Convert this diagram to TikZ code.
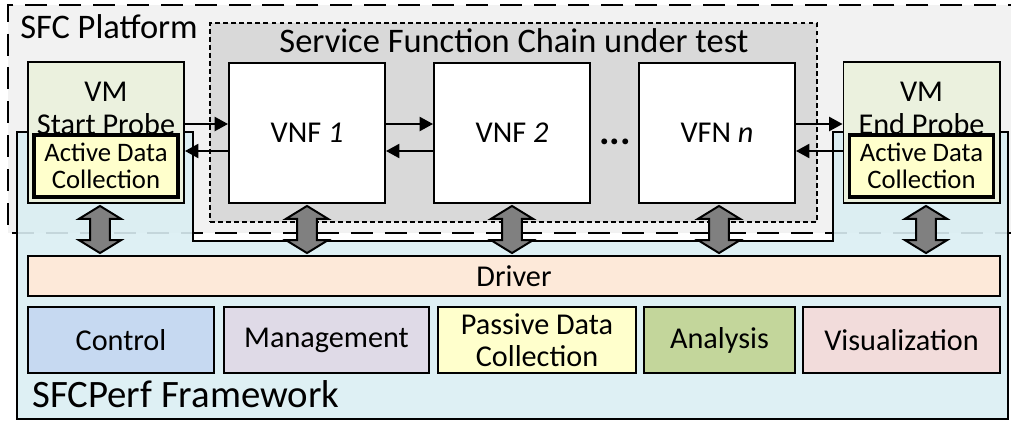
\documentclass[tikz,border=0pt]{standalone}
\usepackage{fontspec}
\setmainfont{Carlito}
\usepackage{tikz}
\usetikzlibrary{calc}
\usetikzlibrary{arrows.meta}

\definecolor{platgray}{HTML}{F2F2F2}
\definecolor{chaingray}{HTML}{D9D9D9}
\definecolor{fwblue}{HTML}{DAEEF3}
\definecolor{vmgreen}{HTML}{EBF1DE}
\definecolor{adcyellow}{HTML}{FFFFCC}
\definecolor{drvpeach}{HTML}{FDE9D9}
\definecolor{ctrlblue}{HTML}{C6D9F1}
\definecolor{mgmtlilac}{HTML}{DFDAE7}
\definecolor{anagreen}{HTML}{C3D69B}
\definecolor{vispink}{HTML}{F2DCDB}
\definecolor{fatgray}{HTML}{808080}

\newcommand{\lblfont}{\fontsize{21.5}{23}\selectfont}
\newcommand{\adcfont}{\fontsize{19}{19.5}\selectfont}
\newcommand{\titlefont}{\fontsize{24.5}{26}\selectfont}
\newcommand{\fwfont}{\fontsize{27.6}{29}\selectfont}

\newcommand{\fatarrow}[3][0]{%
 \draw[fatarr] let \p1=($(#2.south)+(#1,0)$), \p2=(#3.north) in
  (\x1,\y1-1.4pt) -- (\x1+15pt,\y1-10.6pt) -- (\x1+7pt,\y1-10.6pt)
  -- (\x1+7pt,\y2+10.6pt) -- (\x1+15pt,\y2+10.6pt) -- (\x1,\y2+1.4pt)
  -- (\x1-15pt,\y2+10.6pt) -- (\x1-7pt,\y2+10.6pt) -- (\x1-7pt,\y1-10.6pt)
  -- (\x1-15pt,\y1-10.6pt) -- cycle;}

\begin{document}
\begin{tikzpicture}[x=0.025cm,y=-0.025cm,
 wh/.style 2 args={minimum width=#1*0.025cm,minimum height=#2*0.025cm},
 box/.style={draw,line width=1.4pt,inner sep=0pt,align=center,font=\lblfont},
 vnf/.style={box,fill=white,wh={156}{140}},
 vm/.style={box,fill=vmgreen,wh={156}{141}},
 adc/.style={draw,line width=2.2pt,inner sep=0pt,align=center,font=\adcfont,fill=adcyellow,wh={144}{62}},
 txt/.style={inner sep=0pt,align=center,font=\lblfont},
 flow/.style={line width=1.4pt,-{Triangle[length=9.5pt,width=10pt]}},
 fatarr/.style={draw,line width=1.4pt,fill=fatgray}]
 \useasboundingbox (0,0) rectangle (1011,421);
 \clip (0,0) rectangle (1011,421);

 \fill[platgray] (8,5) rectangle (1030,233);
 \draw[line width=2.1pt,dash pattern=on 15.6pt off 8.5pt] (1030,5) -- (8,5) -- (8,233) -- (1030,233);
 \node[anchor=base west,inner sep=0pt,font=\titlefont] (platlbl) at (20,38) {SFC Platform};

 \node[draw,fill=chaingray,line width=1.4pt,dash pattern=on 3.5pt off 2.2pt,inner sep=0pt,wh={607}{199}] (chain) at (513.5,122.5) {};
 \node[anchor=base,inner sep=0pt,font=\titlefont] (chainlbl) at (514,52) {Service Function Chain under test};

 \draw[line width=1.4pt,fill=fwblue,fill opacity=0.9]
  (17,132) -- (193,132) -- (193,241) -- (833,241) -- (833,132) -- (1008,132) -- (1008,419) -- (17,419) -- cycle;
 \node[anchor=base west,inner sep=0pt,font=\fwfont] (fwlbl) at (32,407) {SFCPerf Framework};

 \node[vm] (startvm) at (106,132.5) {};
 \node[txt,anchor=north] (startlbl) at (startvm.north |- 0,82) {VM\\Start Probe};
 \node[adc] (startadc) at (106,166) {Active Data\\Collection};
 \node[vm] (endvm) at (921.5,132.5) {};
 \node[txt,anchor=north] (endlbl) at (endvm.north |- 0,82) {VM\\End Probe};
 \node[adc] (endadc) at (921.5,166) {Active Data\\Collection};

 \node[vnf] (vnf1) at (307,133) {VNF \textit{1}};
 \node[vnf] (vnf2) at (512,133) {VNF \textit{2}};
 \node[vnf] (vfnn) at (717,133) {VFN \textit{n}};
 \node[inner sep=0pt,anchor=base,font=\fontsize{28}{28}\bfseries] (dots) at (615,144) {{.}{.}{.}};

 \draw[flow] (startvm.east |- 0,124) -- (vnf1.west |- 0,124);
 \draw[flow] (vnf1.west |- 0,151) -- (startvm.east |- 0,151);
 \draw[flow] (vnf1.east |- 0,124) -- (vnf2.west |- 0,124);
 \draw[flow] (vnf2.west |- 0,151) -- (vnf1.east |- 0,151);
 \draw[flow] (vfnn.east |- 0,124) -- (endvm.west |- 0,124);
 \draw[flow] (endvm.west |- 0,151) -- (vfnn.east |- 0,151);

 \node[box,fill=drvpeach,wh={972}{40}] (driver) at (514,276) {Driver};
 \node[box,fill=ctrlblue,wh={186}{66}] (control) at (121,340) {Control};
 \node[box,fill=mgmtlilac,wh={205}{66}] (mgmt) at (326.5,340) {Management};
 \node[box,fill=adcyellow,wh={198}{66}] (passive) at (537,340) {Passive Data\\Collection};
 \node[box,fill=anagreen,wh={151}{66}] (analysis) at (719.5,340) {Analysis};
 \node[box,fill=vispink,wh={197}{66}] (vis) at (901.5,340) {Visualization};

 \fatarrow[-6]{startvm}{driver}
 \fatarrow{vnf1}{driver}
 \fatarrow{vnf2}{driver}
 \fatarrow[2]{vfnn}{driver}
 \fatarrow[4.5]{endvm}{driver}
\end{tikzpicture}
\end{document}
